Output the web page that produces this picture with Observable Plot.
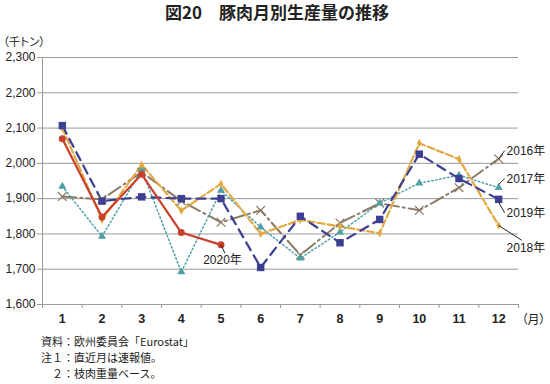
<!DOCTYPE html>
<html><head><meta charset="utf-8">
<script src="https://cdn.jsdelivr.net/npm/d3@7"></script>
<script src="https://cdn.jsdelivr.net/npm/@observablehq/plot@0.6"></script>
<style>
body{margin:0;width:550px;height:384px;background:#fff;position:relative;overflow:hidden;font-family:"Liberation Sans","Noto Sans CJK JP",sans-serif;color:#222}
#title{position:absolute;left:165px;top:-1px;font-family:"Noto Sans CJK JP",sans-serif;font-weight:bold;font-size:17px;white-space:nowrap;z-index:2}
#unit{position:absolute;left:3px;top:33px;font-family:"Noto Sans CJK JP",sans-serif;font-size:11.5px;font-feature-settings:"palt";z-index:2}
#chart{position:absolute;left:0;top:26px;z-index:1}
.note{position:absolute;left:41px;font-family:"Noto Sans CJK JP",sans-serif;font-size:11px;white-space:pre;z-index:2}
.palt text{font-feature-settings:"palt"}
</style></head><body>
<div id="chart"></div>
<div id="title">図20　豚肉月別生産量の推移</div>
<div id="unit">（千トン）</div>
<div class="note" style="top:333px">資料：欧州委員会「Eurostat」</div>
<div class="note" style="top:349px">注１：直近月は速報値。</div>
<div class="note" style="top:365px">　２：枝肉重量ベース。</div>
<script>
const months = [1,2,3,4,5,6,7,8,9,10,11,12];
const yTicks = [1600,1700,1800,1900,2000,2100,2200,2300];
const y2016 = [1906,1898,1975,1893,1833,1867,1740,1831,1887,1867,1931,2013];
const y2017 = [1935,1793,1982,1692,1923,1819,1731,1805,1887,1944,1966,1931];
const y2018 = [2100,1840,1996,1866,1942,1800,1840,1821,1802,2057,2012,1824];
const y2019 = [2107,1893,1905,1900,1900,1705,1850,1775,1841,2026,1957,1898];
const y2020 = [2070,1848,1969,1804,1769];
const seriesNames = ["2016年","2017年","2018年","2019年","2020年"];
// label anchors in data units: [month, value] of label and leader endpoints
const labelPos = [
  {name:"2016年", x:12.2, y:2034, x1:12, y1:2013, x2:12.15, y2:2036},
  {name:"2017年", x:12.2, y:1955, x1:12, y1:1940, x2:12.15, y2:1957},
  {name:"2019年", x:12.2, y:1858, x1:12, y1:1890, x2:12.15, y2:1860},
  {name:"2018年", x:12.2, y:1759, x1:12, y1:1824, x2:12.58, y2:1782},
  {name:"2020年", x:4.55, y:1725, x1:5, y1:1769, x2:5.1, y2:1745}
];

const styles = {
  "2016年": {stroke:"#8a7a66", dash:"14,4,2,4", w:2, symbol:"times", r:4, fill:"none", sw:1.2},
  "2017年": {stroke:"#4e9fa6", dash:"1.5,2.5", w:1.5, symbol:"triangle", r:3, fill:"#4e9fa6", sw:0},
  "2018年": {stroke:"#e3aa44", dash:"7,3", w:2.2, symbol:"diamond", r:2.5, fill:"#e3aa44", sw:0},
  "2019年": {stroke:"#3c3f92", dash:"9,6", w:2.2, symbol:"square", r:4.2, fill:"#3c3f92", sw:0},
  "2020年": {stroke:"#c9402e", dash:null, w:2.2, symbol:"circle", r:3.5, fill:"#c9402e", sw:0}
};
const valuesBy = {"2016年":y2016,"2017年":y2017,"2018年":y2018,"2019年":y2019,"2020年":y2020};
const numFont = "'Liberation Sans', Arial, sans-serif";

const marks = [
  Plot.gridY(yTicks, {stroke:"#9a9a9a", strokeOpacity:1, strokeWidth:1}),
  Plot.ruleX([0.5], {stroke:"#9a9a9a", strokeWidth:1}),
  Plot.axisY({ticks:yTicks, tickFormat:d3.format(","), tickSize:5, tickPadding:2, stroke:"#9a9a9a", fontSize:12, fontFamily:numFont, label:null}),
  Plot.axisX({ticks:d3.range(0.5,13,1), tickFormat:()=>"", tickSize:4, stroke:"#9a9a9a", label:null}),
  Plot.axisX({ticks:months, tickSize:0, tickPadding:10, fontSize:12.5, fontWeight:"bold", fontFamily:numFont, label:null})
];
for (const name of seriesNames) {
  const s = styles[name];
  const data = valuesBy[name].map((v,i)=>({month:months[i], value:v}));
  marks.push(Plot.line(data, {x:"month", y:"value", stroke:s.stroke, strokeWidth:s.w, strokeDasharray:s.dash, strokeLinejoin:"round"}));
}
for (const name of seriesNames) {
  const s = styles[name];
  const data = valuesBy[name].map((v,i)=>({month:months[i], value:v}));
  marks.push(Plot.dot(data, {x:"month", y:"value", symbol:()=>s.symbol, r:s.r, fill:s.fill, stroke:s.symbol==="times"?s.stroke:"none", strokeWidth:s.sw}));
}
marks.push(Plot.link(labelPos, {x1:"x1", y1:"y1", x2:"x2", y2:"y2", stroke:"#222", strokeWidth:1}));
marks.push(Plot.text(labelPos, {x:"x", y:"y", text:"name", textAnchor:"start", fontSize:12, fill:"#222", fontFamily:"'Liberation Sans', 'Noto Sans CJK JP', sans-serif"}));
marks.push(Plot.text(["（月）"], {x:12.5, y:1600, dx:3, dy:16, textAnchor:"start", fontSize:12, fill:"#222", fontFamily:"'Noto Sans CJK JP', sans-serif", className:"palt"}));

const chart = Plot.plot({
  width:550, height:306,
  marginTop:31, marginBottom:28, marginLeft:42, marginRight:32,
  x:{domain:[0.5,12.5]},
  y:{domain:[1600,2300]},
  style:{fontFamily:numFont, color:"#222", background:"white", overflow:"visible"},
  marks
});
document.getElementById("chart").appendChild(chart);
</script>
</body></html>
